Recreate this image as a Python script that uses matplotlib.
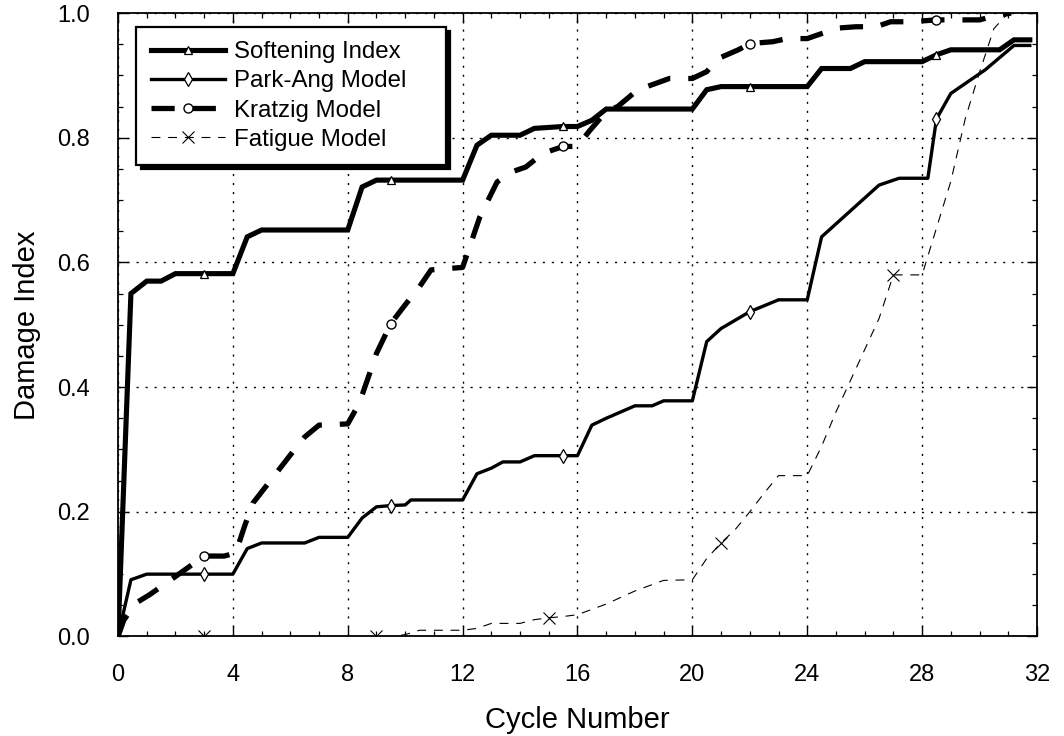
import matplotlib
matplotlib.use("Agg")
import matplotlib.pyplot as plt
from matplotlib.ticker import MultipleLocator, FormatStrFormatter

plt.rcParams['font.family'] = ['Liberation Sans', 'DejaVu Sans']

# ---------------- data ----------------
soft_x = [0, 0.45, 1.0, 1.5, 2.0, 3.0, 4.0, 4.5, 5.0, 8.0, 8.5, 9.0, 9.5, 12.0, 12.5, 13.0,
          14.0, 14.5, 15.5, 16.0, 16.5, 17.0, 20.0, 20.5, 21.0, 22.0, 24.0, 24.5, 25.5, 26.0,
          28.0, 28.5, 29.0, 30.7, 31.2, 31.75]
soft_y = [0, 0.55, 0.57, 0.57, 0.582, 0.582, 0.582, 0.641, 0.652, 0.652, 0.721, 0.732, 0.732,
          0.732, 0.788, 0.804, 0.804, 0.815, 0.818, 0.818, 0.828, 0.846, 0.846, 0.877, 0.882,
          0.882, 0.882, 0.911, 0.911, 0.922, 0.922, 0.933, 0.941, 0.941, 0.957, 0.957]

park_x = [0, 0.45, 1.0, 3.0, 4.0, 4.5, 5.0, 6.5, 7.0, 8.0, 8.5, 9.0, 9.5, 10.0, 10.2, 10.5,
          12.0, 12.5, 13.0, 13.4, 14.0, 14.5, 15.5, 16.0, 16.5, 17.0, 17.5, 18.0, 18.6, 19.0,
          20.0, 20.5, 21.0, 22.0, 23.0, 24.0, 24.5, 26.5, 27.2, 28.2, 28.5, 29.0, 30.2, 31.2,
          31.75]
park_y = [0, 0.091, 0.10, 0.10, 0.10, 0.141, 0.15, 0.15, 0.159, 0.159, 0.19, 0.208, 0.21,
          0.211, 0.219, 0.219, 0.219, 0.261, 0.27, 0.28, 0.28, 0.29, 0.29, 0.29, 0.339, 0.35,
          0.36, 0.37, 0.37, 0.378, 0.378, 0.473, 0.494, 0.521, 0.54, 0.54, 0.641, 0.724, 0.735,
          0.735, 0.83, 0.871, 0.909, 0.948, 0.948]

kratz_x = [0, 0.2, 0.6, 1.1, 1.75, 3.0, 3.7, 4.1, 4.4, 4.7, 6.0, 6.5, 7.0, 8.0, 8.4, 8.8, 9.0,
           9.5, 10.0, 10.5, 10.9, 12.0, 12.6, 13.2, 13.7, 14.2, 14.8, 15.5, 16.0, 16.4, 17.0,
           17.4, 18.1, 18.6, 19.2, 20.0, 20.5, 20.9, 21.6, 22.0, 22.8, 23.3, 24.0, 24.5, 25.1,
           25.7, 26.4, 26.9, 27.6, 28.5, 30.0, 30.5, 31.1]
kratz_y = [0, 0.026, 0.053, 0.067, 0.088, 0.129, 0.129, 0.134, 0.176, 0.214, 0.291, 0.32,
           0.339, 0.341, 0.374, 0.427, 0.454, 0.502, 0.532, 0.561, 0.588, 0.592, 0.673, 0.729,
           0.745, 0.753, 0.775, 0.786, 0.786, 0.81, 0.842, 0.85, 0.877, 0.885, 0.895, 0.895,
           0.906, 0.927, 0.941, 0.951, 0.954, 0.959, 0.959, 0.967, 0.976, 0.978, 0.978, 0.986,
           0.986, 0.989, 0.989, 0.995, 1.0]

fat_x = [0, 3, 9, 9.5, 10.0, 10.5, 12.0, 12.5, 13.0, 14.0, 14.5, 15.0, 15.5, 16.0, 17.0, 18.0,
         19.0, 20.0, 20.5, 21.0, 21.5, 22.0, 22.5, 23.0, 24.0, 24.5, 25.0, 25.5, 26.0, 26.5,
         27.0, 28.0, 28.5, 29.0, 29.5, 30.0, 30.5, 31.0]
fat_y = [0, 0, 0, 0, 0.003, 0.01, 0.01, 0.013, 0.021, 0.021, 0.027, 0.03, 0.032, 0.035, 0.052,
         0.073, 0.09, 0.091, 0.125, 0.15, 0.172, 0.2, 0.23, 0.258, 0.258, 0.305, 0.36, 0.41,
         0.46, 0.51, 0.58, 0.58, 0.655, 0.73, 0.83, 0.905, 0.975, 1.0]

# cycles where the symbols sit
mark_5 = [3.0, 9.5, 15.5, 22.0, 28.5]
mark_fat = [3, 9, 15, 21, 27]

x_ticks = list(range(0, 33, 4))
y_ticks = [0.0, 0.2, 0.4, 0.6, 0.8, 1.0]


def idx(xs, marks):
    return [xs.index(m) for m in marks]


# ---------------- draw ----------------
fig = plt.figure(figsize=(10.64, 7.36), dpi=100)
ax = fig.add_axes([0.1109, 0.1352, 0.8637, 0.8471])

ax.plot(soft_x, soft_y, color='black', lw=3.7, marker='^', markersize=6,
        markerfacecolor='white', markeredgewidth=0.9, markevery=idx(soft_x, mark_5),
        label='Softening Index', solid_joinstyle='miter', zorder=4)
ax.plot(park_x, park_y, color='black', lw=2.4, marker='d', markersize=7,
        markerfacecolor='white', markeredgewidth=0.9, markevery=idx(park_x, mark_5),
        label='Park-Ang Model', zorder=4)
ax.plot(kratz_x, kratz_y, color='black', lw=3.8, dashes=(4.4, 3.4), marker='o', markersize=6.5,
        markerfacecolor='white', markeredgewidth=1.0, markevery=idx(kratz_x, mark_5),
        label='Kratzig Model', zorder=4)
ax.plot(fat_x, fat_y, color='black', lw=0.8, dashes=(8, 7), marker='x', markersize=8,
        markeredgewidth=0.8, markevery=idx(fat_x, mark_fat),
        label='Fatigue Model', zorder=4)

ax.set_xlim(0, 32)
ax.set_ylim(0, 1.0)
ax.set_xticks(x_ticks)
ax.set_yticks(y_ticks)
ax.xaxis.set_minor_locator(MultipleLocator(1))
ax.yaxis.set_minor_locator(MultipleLocator(0.05))
ax.yaxis.set_major_formatter(FormatStrFormatter('%.1f'))
ax.tick_params(which='both', direction='in', top=True, right=True, colors='black')
ax.tick_params(which='major', length=7, width=1.0, labelsize=17, pad=20)
ax.tick_params(which='minor', length=3.5, width=0.9)
for s in ax.spines.values():
    s.set_linewidth(1.3)

ax.grid(True, which='major', color='black', lw=1.0, linestyle=(0, (1.5, 5.0)))
ax.set_axisbelow(True)

ax.set_xlabel('Cycle Number', fontsize=21, labelpad=14)
ax.set_ylabel('Damage Index', fontsize=21, labelpad=12)

leg = ax.legend(loc='upper left', bbox_to_anchor=(0.02, 0.5, 0.337, 0.478), mode='expand',
                borderaxespad=0, fontsize=17.3, handlelength=3.1, handletextpad=0.38,
                labelspacing=0.3, borderpad=0.6, numpoints=1, fancybox=False, framealpha=1,
                shadow={'color': 'black', 'alpha': 1, 'ox': 3, 'oy': -3})
leg.get_frame().set_edgecolor('black')
leg.get_frame().set_linewidth(1.6)

fig.savefig('out.png', dpi=100)
